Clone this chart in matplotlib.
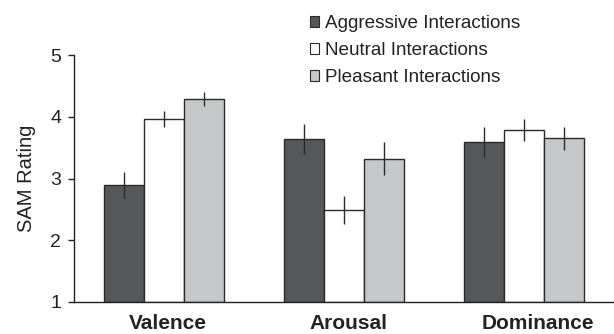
import matplotlib
matplotlib.use("Agg")
import matplotlib.pyplot as plt
import numpy as np
from matplotlib.patches import Patch
import matplotlib.transforms as mtransforms

categories = ["Valence", "Arousal", "Dominance"]
series = ["Aggressive Interactions", "Neutral Interactions", "Pleasant Interactions"]
aggressive = [2.89, 3.64, 3.59]
neutral = [3.96, 2.49, 3.79]
pleasant = [4.29, 3.32, 3.65]
aggressive_err = [0.21, 0.25, 0.24]
neutral_err = [0.13, 0.23, 0.18]
pleasant_err = [0.11, 0.265, 0.19]
yticks = [1, 2, 3, 4, 5]

colors = ["#555759", "#ffffff", "#c6c7c9"]
plt.rcParams['font.family'] = ['Liberation Sans', 'DejaVu Sans']

fig = plt.figure(figsize=(6.14, 3.34), dpi=100)
ax = fig.add_axes([0.1205, 0.096, 0.8795, 0.739])

x = np.arange(len(categories))
w = 0.222
data = [aggressive, neutral, pleasant]
errs = [aggressive_err, neutral_err, pleasant_err]
for i, (vals, e, c) in enumerate(zip(data, errs, colors)):
    pos = x + (i - 1) * w
    ax.bar(pos, np.array(vals) - 1, bottom=1, width=w, color=c,
           edgecolor="#2a2a2a", linewidth=1.0, zorder=2)
    ax.errorbar(pos, vals, yerr=e, fmt="none", ecolor="#2a2a2a",
                elinewidth=1.0, capsize=0, zorder=3)

ax.set_xlim(-0.5, 2.5)
ax.set_ylim(1, 5)
ax.set_yticks(yticks)
ax.set_yticklabels([str(t) for t in yticks], fontsize=14, color="#222222")
ax.set_xticks(x)
ax.set_xticklabels(categories, fontsize=15, fontweight="bold", color="#222222")
ax.tick_params(axis="x", length=0, pad=9)
ax.tick_params(axis="y", length=4.3, width=1, pad=5, color="#222222")
ax.set_ylabel("SAM Rating", fontsize=14.5, color="#222222", labelpad=10)
for s in ["top", "right"]:
    ax.spines[s].set_visible(False)
for s in ["left", "bottom"]:
    ax.spines[s].set_linewidth(1.0)
    ax.spines[s].set_color("#222222")

# category labels sit slightly right of their groups in the reference
label_shift_px = [4, 4, 14]
for lbl, dx in zip(ax.get_xticklabels(), label_shift_px):
    lbl.set_transform(lbl.get_transform() + mtransforms.ScaledTranslation(dx / 100, 0, fig.dpi_scale_trans))

handles = [Patch(facecolor=c, edgecolor="#2a2a2a", linewidth=0.8) for c in colors]
fig.legend(handles, series, loc="upper left", bbox_to_anchor=(310 / 614, 1 - 15 / 334),
           frameon=False, fontsize=13.6, handlelength=0.5, handleheight=0.48,
           handletextpad=0.3, labelspacing=0.53, borderaxespad=0, borderpad=0,
           labelcolor="#222222")

fig.savefig("out.png", dpi=100)
